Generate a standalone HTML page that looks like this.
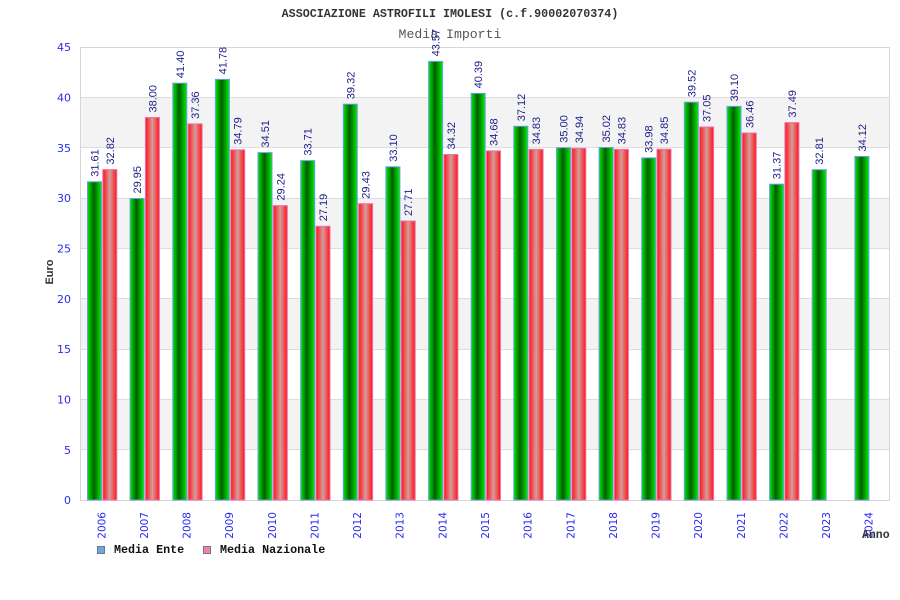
<!DOCTYPE html>
<html><head><meta charset="utf-8"><style>
html,body{margin:0;padding:0;background:#fff;}
svg{display:block;}
.yl{font-family:"DejaVu Sans","Liberation Sans",sans-serif;font-size:11px;fill:#2a2aee;text-anchor:end;}
.vl{font-family:"Liberation Sans","DejaVu Sans",sans-serif;font-size:11px;fill:#1e1e8a;}
.xl{font-family:"DejaVu Sans","Liberation Sans",sans-serif;font-size:10.5px;fill:#2a2aee;text-anchor:end;}
.mono{font-family:"Liberation Mono","DejaVu Sans Mono",monospace;}
</style></head><body>
<svg width="900" height="600" viewBox="0 0 900 600" xmlns="http://www.w3.org/2000/svg">
<defs>
<linearGradient id="gg" x1="0" y1="0" x2="1" y2="0">
<stop offset="0" stop-color="#00e800"/><stop offset="0.45" stop-color="#005e00"/><stop offset="1" stop-color="#00f000"/>
</linearGradient>
<linearGradient id="rg" x1="0" y1="0" x2="1" y2="0">
<stop offset="0" stop-color="#ff1414"/><stop offset="0.5" stop-color="#d69c9c"/><stop offset="1" stop-color="#ff1414"/>
</linearGradient>
</defs>
<rect width="900" height="600" fill="#fff"/>
<text x="450" y="17" class="mono" font-size="11.7" font-weight="bold" fill="#333" text-anchor="middle">ASSOCIAZIONE ASTROFILI IMOLESI (c.f.90002070374)</text>
<text x="450" y="38" class="mono" font-size="13.2" fill="#555" text-anchor="middle">Media Importi</text>
<!-- bands -->
<rect x="80" y="97.33" width="810" height="50.33" fill="#f3f3f3"/>
<rect x="80" y="198" width="810" height="50.33" fill="#f3f3f3"/>
<rect x="80" y="298.67" width="810" height="50.33" fill="#f3f3f3"/>
<rect x="80" y="399.33" width="810" height="50.33" fill="#f3f3f3"/>
<g stroke="#dddddd" stroke-width="1">
<line x1="80" x2="890" y1="97.5" y2="97.5"/><line x1="80" x2="890" y1="147.5" y2="147.5"/>
<line x1="80" x2="890" y1="198.5" y2="198.5"/><line x1="80" x2="890" y1="248.5" y2="248.5"/>
<line x1="80" x2="890" y1="298.5" y2="298.5"/><line x1="80" x2="890" y1="349.5" y2="349.5"/>
<line x1="80" x2="890" y1="399.5" y2="399.5"/><line x1="80" x2="890" y1="449.5" y2="449.5"/>
</g>
<rect x="80.5" y="47.5" width="809" height="453" fill="none" stroke="#d6d6d6"/>
<!-- y labels -->
<text class="yl" x="71" y="51">45</text>
<text class="yl" x="71" y="101.5">40</text>
<text class="yl" x="71" y="152">35</text>
<text class="yl" x="71" y="202">30</text>
<text class="yl" x="71" y="252.5">25</text>
<text class="yl" x="71" y="303">20</text>
<text class="yl" x="71" y="353">15</text>
<text class="yl" x="71" y="403.5">10</text>
<text class="yl" x="71" y="454">5</text>
<text class="yl" x="71" y="504">0</text>
<text transform="translate(53,272) rotate(-90)" font-family="Liberation Sans,sans-serif" font-size="11" font-weight="bold" fill="#333" text-anchor="middle">Euro</text>
<!-- green bars -->
<g fill="url(#gg)" stroke="#6a9cf0" stroke-width="1">
<rect x="87.5" y="181.8" width="14" height="318.2"/>
<rect x="130.1" y="198.5" width="14" height="301.5"/>
<rect x="172.8" y="83.2" width="14" height="416.8"/>
<rect x="215.4" y="79.4" width="14" height="420.6"/>
<rect x="258" y="152.6" width="14" height="347.4"/>
<rect x="300.7" y="160.6" width="14" height="339.4"/>
<rect x="343.3" y="104.2" width="14" height="395.8"/>
<rect x="385.9" y="166.8" width="14" height="333.2"/>
<rect x="428.6" y="61.4" width="14" height="438.6"/>
<rect x="471.2" y="93.4" width="14" height="406.6"/>
<rect x="513.8" y="126.3" width="14" height="373.7"/>
<rect x="556.5" y="147.7" width="14" height="352.3"/>
<rect x="599.1" y="147.5" width="14" height="352.5"/>
<rect x="641.7" y="157.9" width="14" height="342.1"/>
<rect x="684.3" y="102.2" width="14" height="397.8"/>
<rect x="727" y="106.4" width="14" height="393.6"/>
<rect x="769.6" y="184.2" width="14" height="315.8"/>
<rect x="812.2" y="169.7" width="14" height="330.3"/>
<rect x="854.9" y="156.5" width="14" height="343.5"/>
</g>
<!-- red bars -->
<g fill="url(#rg)" stroke="#f070b0" stroke-width="1">
<rect x="102.8" y="169.6" width="14" height="330.4"/>
<rect x="145.4" y="117.5" width="14" height="382.5"/>
<rect x="188.1" y="123.9" width="14" height="376.1"/>
<rect x="230.7" y="149.8" width="14" height="350.2"/>
<rect x="273.3" y="205.6" width="14" height="294.4"/>
<rect x="316" y="226.3" width="14" height="273.7"/>
<rect x="358.6" y="203.7" width="14" height="296.3"/>
<rect x="401.2" y="221" width="14" height="279"/>
<rect x="443.9" y="154.5" width="14" height="345.5"/>
<rect x="486.5" y="150.9" width="14" height="349.1"/>
<rect x="529.1" y="149.4" width="14" height="350.6"/>
<rect x="571.8" y="148.3" width="14" height="351.7"/>
<rect x="614.4" y="149.4" width="14" height="350.6"/>
<rect x="657" y="149.2" width="14" height="350.8"/>
<rect x="699.6" y="127" width="14" height="373"/>
<rect x="742.3" y="133" width="14" height="367"/>
<rect x="784.9" y="122.6" width="14" height="377.4"/>
</g>
<!-- green value labels -->
<g class="vl">
<text transform="translate(98.5,176.8) rotate(-90)">31.61</text>
<text transform="translate(141.1,193.5) rotate(-90)">29.95</text>
<text transform="translate(183.8,78.2) rotate(-90)">41.40</text>
<text transform="translate(226.4,74.4) rotate(-90)">41.78</text>
<text transform="translate(269,147.6) rotate(-90)">34.51</text>
<text transform="translate(311.7,155.6) rotate(-90)">33.71</text>
<text transform="translate(354.3,99.2) rotate(-90)">39.32</text>
<text transform="translate(396.9,161.8) rotate(-90)">33.10</text>
<text transform="translate(439.6,56.4) rotate(-90)">43.57</text>
<text transform="translate(482.2,88.4) rotate(-90)">40.39</text>
<text transform="translate(524.8,121.3) rotate(-90)">37.12</text>
<text transform="translate(567.5,142.7) rotate(-90)">35.00</text>
<text transform="translate(610.1,142.5) rotate(-90)">35.02</text>
<text transform="translate(652.7,152.9) rotate(-90)">33.98</text>
<text transform="translate(695.3,97.2) rotate(-90)">39.52</text>
<text transform="translate(738,101.4) rotate(-90)">39.10</text>
<text transform="translate(780.6,179.2) rotate(-90)">31.37</text>
<text transform="translate(823.2,164.7) rotate(-90)">32.81</text>
<text transform="translate(865.9,151.5) rotate(-90)">34.12</text>
</g>
<!-- red value labels -->
<g class="vl">
<text transform="translate(113.8,164.6) rotate(-90)">32.82</text>
<text transform="translate(156.4,112.5) rotate(-90)">38.00</text>
<text transform="translate(199.1,118.9) rotate(-90)">37.36</text>
<text transform="translate(241.7,144.8) rotate(-90)">34.79</text>
<text transform="translate(284.3,200.6) rotate(-90)">29.24</text>
<text transform="translate(327,221.3) rotate(-90)">27.19</text>
<text transform="translate(369.6,198.7) rotate(-90)">29.43</text>
<text transform="translate(412.2,216) rotate(-90)">27.71</text>
<text transform="translate(454.9,149.5) rotate(-90)">34.32</text>
<text transform="translate(497.5,145.9) rotate(-90)">34.68</text>
<text transform="translate(540.1,144.4) rotate(-90)">34.83</text>
<text transform="translate(582.8,143.3) rotate(-90)">34.94</text>
<text transform="translate(625.4,144.4) rotate(-90)">34.83</text>
<text transform="translate(668,144.2) rotate(-90)">34.85</text>
<text transform="translate(710.6,122) rotate(-90)">37.05</text>
<text transform="translate(753.3,128) rotate(-90)">36.46</text>
<text transform="translate(795.9,117.6) rotate(-90)">37.49</text>
</g>
<!-- x labels -->
<g class="xl">
<text transform="translate(105.3,512) rotate(-90)">2006</text>
<text transform="translate(147.9,512) rotate(-90)">2007</text>
<text transform="translate(190.6,512) rotate(-90)">2008</text>
<text transform="translate(233.2,512) rotate(-90)">2009</text>
<text transform="translate(275.8,512) rotate(-90)">2010</text>
<text transform="translate(318.5,512) rotate(-90)">2011</text>
<text transform="translate(361.1,512) rotate(-90)">2012</text>
<text transform="translate(403.7,512) rotate(-90)">2013</text>
<text transform="translate(446.4,512) rotate(-90)">2014</text>
<text transform="translate(489,512) rotate(-90)">2015</text>
<text transform="translate(531.6,512) rotate(-90)">2016</text>
<text transform="translate(574.3,512) rotate(-90)">2017</text>
<text transform="translate(616.9,512) rotate(-90)">2018</text>
<text transform="translate(659.5,512) rotate(-90)">2019</text>
<text transform="translate(702.1,512) rotate(-90)">2020</text>
<text transform="translate(744.8,512) rotate(-90)">2021</text>
<text transform="translate(787.4,512) rotate(-90)">2022</text>
<text transform="translate(830,512) rotate(-90)">2023</text>
<text transform="translate(872.7,512) rotate(-90)">2024</text>
</g>
<text x="862" y="538" class="mono" font-size="11.5" font-weight="bold" fill="#333">Anno</text>
<!-- legend -->
<rect x="97.5" y="546.5" width="7" height="7" fill="#66a8ee" stroke="#777"/>
<text x="114" y="553" class="mono" font-size="11.7" font-weight="bold" fill="#111">Media Ente</text>
<rect x="203.5" y="546.5" width="7" height="7" fill="#f080b8" stroke="#777"/>
<text x="220" y="553" class="mono" font-size="11.7" font-weight="bold" fill="#111">Media Nazionale</text>
</svg>
</body></html>
